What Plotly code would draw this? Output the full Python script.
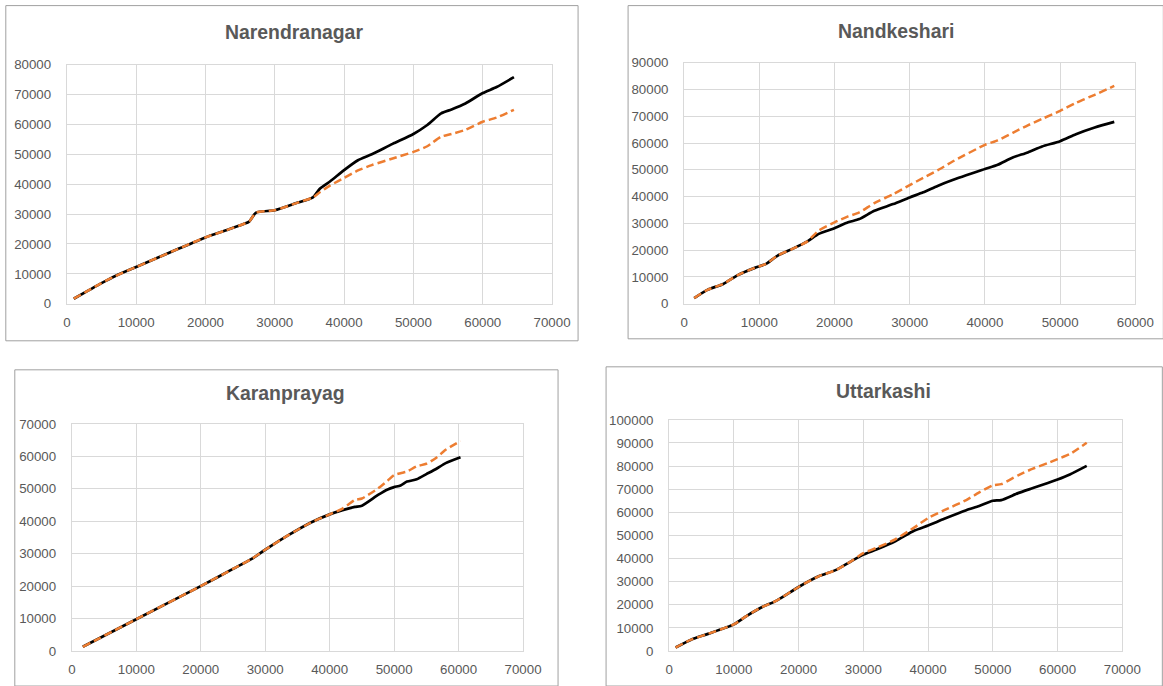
import plotly.graph_objects as go

# ---------------- data ----------------
titles = ["Narendranagar", "Nandkeshari", "Karanprayag", "Uttarkashi"]

nar_x = [1000, 3000, 5000, 7000, 10000, 13000, 16000, 20000, 23000, 25500, 26300,
         27300, 30000, 33000, 35500, 36500, 38000, 40000, 42000, 44000, 47000, 50000,
         52000, 54000, 55500, 57500, 60000, 62000, 64500]
nar_black = [1700, 4300, 6900, 9300, 12300, 15300, 18300, 22200, 24600, 26700, 27500,
             30500, 31300, 33600, 35600, 38500, 41000, 44700, 48000, 50000, 53500, 56800,
             59800, 63700, 65000, 67000, 70500, 72500, 75800]
nar_orange = [1700, 4300, 6900, 9300, 12300, 15300, 18300, 22200, 24600, 26700, 27500,
              30500, 31300, 33600, 35600, 37300, 39600, 42100, 44600, 46400, 48600, 50800,
              52700, 55900, 56800, 58200, 60900, 62300, 64900]

nan_x = [1340, 3100, 5200, 7200, 9400, 10900, 12400, 14400, 16400, 17900, 20000, 21800,
         23300, 25300, 27800, 30000, 31800, 33700, 35700, 40000, 41700, 43700, 45700,
         47600, 50000, 52100, 54600, 57200]
nan_black = [2100, 5200, 7400, 10800, 13400, 14900, 17900, 20500, 23300, 26100, 28200,
             30400, 31600, 34700, 37200, 39700, 41600, 44000, 46200, 50300, 51900, 54600,
             56500, 58700, 60700, 63300, 65800, 67900]
nan_orange = [2100, 5200, 7400, 10800, 13400, 14900, 17900, 20500, 23300, 27300, 30400,
              32600, 34100, 37600, 40900, 44300, 47000, 49800, 53100, 59300, 61000, 63800,
              66600, 69000, 72000, 75000, 78000, 81300]

kar_x = [1700, 10000, 20000, 25000, 27900, 30000, 33600, 37100, 40000, 42000, 43900,
         45000, 47500, 49000, 50000, 51000, 52000, 53500, 55000, 56500, 58000, 60300]
kar_black = [1300, 9800, 20000, 25300, 28400, 31200, 35700, 39600, 42100, 43400, 44400,
             44800, 48100, 49800, 50500, 51000, 52200, 52900, 54500, 56100, 57900, 59700]
kar_orange = [1300, 9800, 20000, 25300, 28400, 31200, 35700, 39600, 42100, 43900, 46500,
              47000, 50100, 52500, 54200, 54800, 55300, 56900, 57700, 59500, 62000, 64700]

utt_x = [1000, 3400, 6000, 10000, 12000, 14300, 16600, 20000, 23000, 25800, 28100, 30000,
         32100, 35000, 37900, 40000, 42500, 45900, 47900, 50000, 51300, 53900, 56200,
         58500, 60000, 61900, 64500]
utt_black = [1500, 4900, 7400, 11500, 15200, 18900, 21800, 27700, 32200, 35100, 38800,
             41700, 44000, 47600, 52100, 54300, 57200, 60900, 62700, 65000, 65300, 68300,
             70500, 72700, 74200, 76400, 80100]
utt_orange = [1500, 4900, 7400, 11500, 15200, 18900, 21800, 27700, 32200, 35100, 38800,
              42300, 44700, 48400, 53500, 57500, 60900, 65300, 68600, 71700, 72200, 76000,
              78900, 81300, 83000, 85200, 90100]

x_max = [70000, 60000, 70000, 70000]
y_max = [80000, 90000, 70000, 100000]

series = [(nar_x, nar_black, nar_orange), (nan_x, nan_black, nan_orange),
          (kar_x, kar_black, kar_orange), (utt_x, utt_black, utt_orange)]

# ---------------- layout geometry (target pixels in the final picture) ----------------
plot_boxes = [(66, 551, 64, 303), (683, 1134, 62, 303), (71, 522, 423, 650), (668, 1121, 419, 650)]
borders = [(5, 577, 5, 340), (627, 1162, 5, 338), (14, 557, 369, 685), (605, 1161, 366, 685)]
title_pos = [(293, 31), (895, 30), (285, 392), (882, 390)]

# capture calibration (figure px -> picture px: X = SX*x + OX)
SX, OX, SY, OY = 0.981, 3.2, 0.978, 6.4
W, H = 1186, 701


def fx(X):
    return (X - OX) / SX / W


def fy(Y):
    return 1 - (Y - OY) / SY / H


fig = go.Figure()
grid = "#D9D9D9"
txt = "#595959"
layout = dict(width=W, height=H, margin=dict(l=0, r=0, t=0, b=0),
              paper_bgcolor="white", plot_bgcolor="white", showlegend=False,
              shapes=[], annotations=[])

for i in range(4):
    xs, yb, yo = series[i]
    ax = "" if i == 0 else str(i + 1)
    fig.add_trace(go.Scatter(x=xs, y=yb, mode="lines", name="Series 1",
                             line=dict(color="black", width=2.7, shape="spline", smoothing=0.6),
                             xaxis="x" + ax, yaxis="y" + ax))
    fig.add_trace(go.Scatter(x=xs, y=yo, mode="lines", name="Series 2",
                             line=dict(color="#ED7D31", width=2.5, dash="8px,4px",
                                       shape="spline", smoothing=0.6),
                             xaxis="x" + ax, yaxis="y" + ax))
    x0, x1, y0, y1 = plot_boxes[i]
    common = dict(showgrid=True, gridcolor=grid, gridwidth=1, zeroline=False,
                  showline=True, linecolor=grid, linewidth=1, mirror=True,
                  ticks="outside", tickcolor="rgba(0,0,0,0)",
                  tickfont=dict(family="Liberation Sans, Arial, sans-serif", size=13.3, color=txt),
                  tickformat="d", fixedrange=True)
    layout["xaxis" + ax] = dict(common, domain=[fx(x0), fx(x1)], range=[0, x_max[i]],
                                dtick=10000, tick0=0, ticklen=6,
                                anchor="y" + ax)
    layout["yaxis" + ax] = dict(common, domain=[fy(y1), fy(y0)], range=[0, y_max[i]],
                                dtick=10000, tick0=0, ticklen=12,
                                anchor="x" + ax)
    bx0, bx1, by0, by1 = borders[i]
    layout["shapes"].append(dict(type="rect", xref="paper", yref="paper",
                                 x0=fx(bx0), x1=fx(bx1), y0=fy(by1), y1=fy(by0),
                                 line=dict(color="#A0A0A0", width=1), fillcolor="rgba(0,0,0,0)",
                                 layer="below"))
    tx, ty = title_pos[i]
    layout["annotations"].append(dict(text="<b>" + titles[i] + "</b>", xref="paper", yref="paper",
                                      x=fx(tx), y=fy(ty), xanchor="center", yanchor="middle",
                                      showarrow=False,
                                      font=dict(family="Liberation Sans, Arial, sans-serif",
                                                size=19.4, color=txt)))

fig.update_layout(**layout)
fig.write_html("out.html", config={"displayModeBar": False},
               post_script="document.body.style.margin='0';document.body.style.overflow='hidden';")
